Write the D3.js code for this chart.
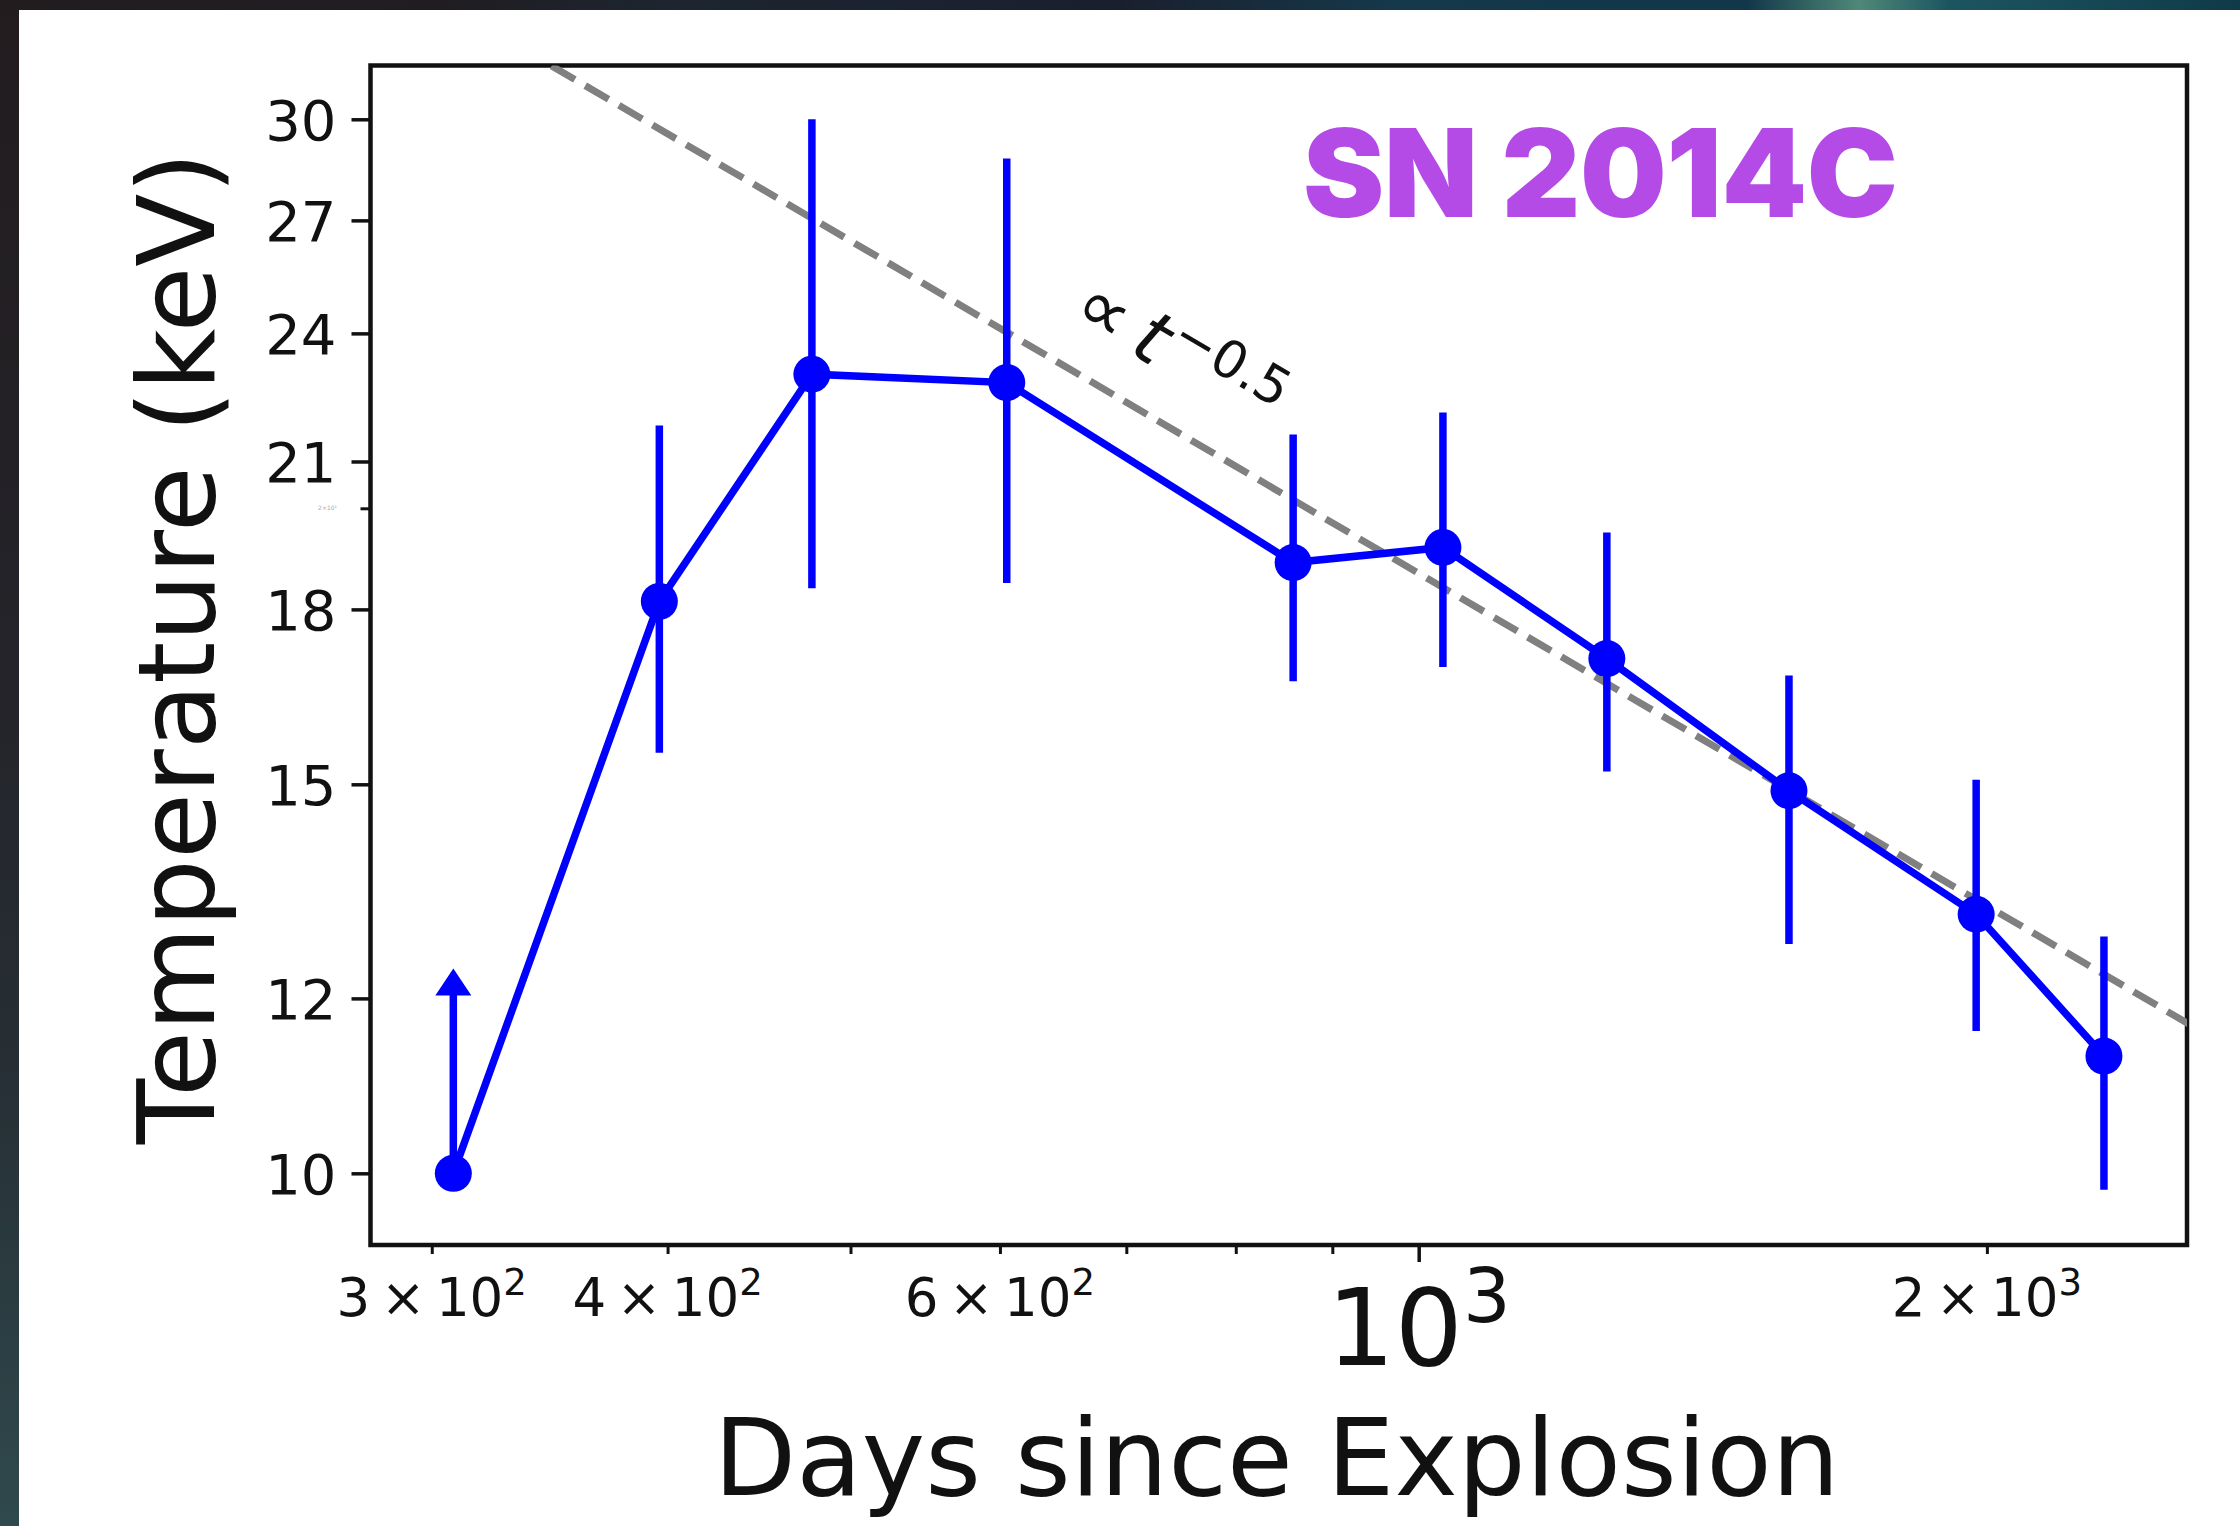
<!DOCTYPE html>
<html>
<head>
<meta charset="utf-8">
<script src="https://cdn.jsdelivr.net/npm/d3@7"></script>
<style>
  html, body { margin: 0; padding: 0; background: #1d1c22; }
  svg { display: block; }
  .tick text { font-family: "DejaVu Sans", sans-serif; }
</style>
</head>
<body>
<div id="chart"></div>
<script>
// SN 2014C: X-ray temperature vs days since explosion
var days     = [308, 396, 477, 605, 858, 1030, 1258, 1571, 1974, 2307];
var tempKeV  = [10.0, 18.15, 23.0, 22.8, 18.9, 19.2, 17.1, 14.9, 13.1, 11.3];
var tempLow  = [null, 15.5, 18.4, 18.5, 16.7, 16.95, 15.2, 12.7, 11.6, 9.83];
var tempHigh = [12.2, 21.8, 30.0, 28.8, 21.6, 22.1, 19.5, 16.8, 15.07, 12.8];
var isLowerLimit = [true, false, false, false, false, false, false, false, false, false];

// power law guide, T = norm * t^slope
var trendNorm = 591;
var trendSlope = -0.5;
var trendDays = [250, 2700];

var yTicks = [10, 12, 15, 18, 21, 24, 27, 30];
var yMinorTicks = [20];
var xMajorTicks = [1000];
var xMinorTicks = [300, 400, 500, 600, 700, 800, 900, 2000];
var xMinorLabels = [
  {value: 300, mant: "3", exp: "2"},
  {value: 400, mant: "4", exp: "2"},
  {value: 600, mant: "6", exp: "2"},
  {value: 2000, mant: "2", exp: "3"}
];

var W = 2240, H = 1526;
var plot = {left: 370.5, right: 2187, top: 65.5, bottom: 1245};

var svg = d3.select("#chart").append("svg")
    .attr("width", W)
    .attr("height", H);

// dark photo-like backdrop peeking around the white card
var defs = svg.append("defs");
var gLeft = defs.append("linearGradient").attr("id", "bgLeft")
    .attr("x1", 0).attr("y1", 0).attr("x2", 0).attr("y2", 1);
[["0", "#221c1f"], ["0.45", "#24242a"], ["0.7", "#262f35"], ["1", "#30494d"]].forEach(function(s) {
  gLeft.append("stop").attr("offset", s[0]).attr("stop-color", s[1]);
});
var gTop = defs.append("linearGradient").attr("id", "bgTop")
    .attr("x1", 0).attr("y1", 0).attr("x2", 1).attr("y2", 0);
[["0", "#221c1f"], ["0.2", "#201d22"], ["0.3", "#1d2530"], ["0.5", "#1a1f2e"],
 ["0.62", "#15384a"], ["0.78", "#12374a"], ["0.83", "#4f8878"], ["0.87", "#1c5560"],
 ["1", "#0f3a48"]].forEach(function(s) {
  gTop.append("stop").attr("offset", s[0]).attr("stop-color", s[1]);
});
svg.append("rect").attr("width", W).attr("height", H).attr("fill", "url(#bgLeft)");
svg.append("rect").attr("width", W).attr("height", 10).attr("fill", "url(#bgTop)");
svg.append("rect").attr("x", 19).attr("y", 10).attr("width", W - 19).attr("height", H - 10)
    .attr("fill", "#ffffff");

defs.append("clipPath").attr("id", "plotClip")
  .append("rect")
    .attr("x", plot.left).attr("y", plot.top)
    .attr("width", plot.right - plot.left).attr("height", plot.bottom - plot.top);

var x = d3.scaleLog()
    .domain([278.4, 2553])
    .range([plot.left, plot.right]);
var y = d3.scaleLog()
    .domain([9.28, 31.73])
    .range([plot.bottom, plot.top]);

// y axis
var yAxis = svg.append("g")
    .attr("transform", "translate(" + plot.left + ",0)")
    .call(d3.axisLeft(y).tickValues(yTicks).tickSize(19).tickPadding(15)
        .tickFormat(d3.format("d")));
yAxis.select(".domain").remove();
yAxis.selectAll(".tick line").attr("stroke", "#111").attr("stroke-width", 3.5);
yAxis.selectAll(".tick text").attr("font-size", 56).attr("fill", "#111").attr("dy", "0.36em");

var yMinor = svg.append("g")
    .attr("transform", "translate(" + plot.left + ",0)")
    .call(d3.axisLeft(y).tickValues(yMinorTicks).tickSize(10).tickFormat(""));
yMinor.select(".domain").remove();
yMinor.selectAll(".tick line").attr("stroke", "#111").attr("stroke-width", 3);
// faint leftover of the original 2x10^1 label
svg.append("text")
    .attr("x", 337).attr("y", y(20) + 2)
    .attr("text-anchor", "end")
    .attr("font-family", "DejaVu Sans")
    .attr("font-size", 6)
    .attr("fill", "#aaa")
    .text("2\u00d710\u00b9");

// x axis
var xMajor = svg.append("g")
    .attr("transform", "translate(0," + plot.bottom + ")")
    .call(d3.axisBottom(x).tickValues(xMajorTicks).tickSize(17).tickFormat(""));
xMajor.select(".domain").remove();
xMajor.selectAll(".tick line").attr("stroke", "#111").attr("stroke-width", 3.5);

var xMinor = svg.append("g")
    .attr("transform", "translate(0," + plot.bottom + ")")
    .call(d3.axisBottom(x).tickValues(xMinorTicks).tickSize(9).tickFormat(""));
xMinor.select(".domain").remove();
xMinor.selectAll(".tick line").attr("stroke", "#111").attr("stroke-width", 3);

// minor tick labels like 3 x 10^2
var minorLab = svg.append("g").attr("font-family", "DejaVu Sans").attr("fill", "#111");
xMinorLabels.forEach(function(d) {
  var t = minorLab.append("text")
      .attr("x", x(d.value))
      .attr("y", 1316)
      .attr("text-anchor", "middle")
      .attr("font-size", 53);
  t.append("tspan").text(d.mant + "\u2009\u00d7\u200910");
  t.append("tspan").attr("font-size", 37).attr("dy", -21).text(d.exp);
});

// major tick label 10^3
xMajorTicks.forEach(function(v) {
  var t = svg.append("text")
      .attr("x", x(v))
      .attr("y", 1365)
      .attr("text-anchor", "middle")
      .attr("font-family", "DejaVu Sans")
      .attr("font-size", 107)
      .attr("fill", "#111");
  t.append("tspan").text("10");
  t.append("tspan").attr("font-size", 75).attr("dy", -43).text(Math.round(Math.log10(v)));
});

// frame
svg.append("rect")
    .attr("x", plot.left).attr("y", plot.top)
    .attr("width", plot.right - plot.left).attr("height", plot.bottom - plot.top)
    .attr("fill", "none")
    .attr("stroke", "#111")
    .attr("stroke-width", 4.5);

// power-law guide
var trend = trendDays.map(function(t) {
  return {t: t, T: trendNorm * Math.pow(t, trendSlope)};
});
svg.append("path")
    .datum(trend)
    .attr("clip-path", "url(#plotClip)")
    .attr("d", d3.line().x(function(d) { return x(d.t); }).y(function(d) { return y(d.T); }))
    .attr("fill", "none")
    .attr("stroke", "#808080")
    .attr("stroke-width", 7)
    .attr("stroke-dasharray", "27,12");

// annotation on the guide
var angle = Math.atan2(y(trend[1].T) - y(trend[0].T), x(trend[1].t) - x(trend[0].t)) * 180 / Math.PI;
var ann = svg.append("text")
    .attr("transform", "translate(1069,318) rotate(" + angle + ")")
    .attr("font-family", "DejaVu Sans")
    .attr("font-size", 74)
    .attr("fill", "#111");
ann.append("tspan").text("\u221d\u2009");
ann.append("tspan").attr("font-style", "italic").text("t");
ann.append("tspan").attr("font-size", 52).attr("dy", -27).attr("dx", 3).text("\u22120.5");

// data
var pts = days.map(function(t, i) {
  return {t: t, T: tempKeV[i], lo: tempLow[i], hi: tempHigh[i], lim: isLowerLimit[i]};
});
var blue = "#0000ff";
var dataG = svg.append("g");

dataG.selectAll("line.err")
  .data(pts)
  .enter().append("line")
    .attr("class", "err")
    .attr("x1", function(d) { return x(d.t); })
    .attr("x2", function(d) { return x(d.t); })
    .attr("y1", function(d) { return y(d.lim ? d.T : d.lo); })
    .attr("y2", function(d) { return y(d.hi); })
    .attr("stroke", blue)
    .attr("stroke-width", 7.5);

// caret for the lower limit
dataG.selectAll("path.limit")
  .data(pts.filter(function(d) { return d.lim; }))
  .enter().append("path")
    .attr("class", "limit")
    .attr("transform", function(d) { return "translate(" + x(d.t) + "," + y(d.hi) + ")"; })
    .attr("d", "M0,-14L18,13L-18,13Z")
    .attr("fill", blue);

dataG.append("path")
    .datum(pts)
    .attr("d", d3.line().x(function(d) { return x(d.t); }).y(function(d) { return y(d.T); }))
    .attr("fill", "none")
    .attr("stroke", blue)
    .attr("stroke-width", 7.5);

dataG.selectAll("circle")
  .data(pts)
  .enter().append("circle")
    .attr("cx", function(d) { return x(d.t); })
    .attr("cy", function(d) { return y(d.T); })
    .attr("r", 18.5)
    .attr("fill", blue);

// axis titles
svg.append("text")
    .attr("x", (plot.left + plot.right) / 2 - 2)
    .attr("y", 1495)
    .attr("text-anchor", "middle")
    .attr("font-family", "DejaVu Sans")
    .attr("font-size", 107)
    .attr("fill", "#111")
    .text("Days since Explosion");

svg.append("text")
    .attr("transform", "translate(214,648) rotate(-90)")
    .attr("text-anchor", "middle")
    .attr("font-family", "DejaVu Sans")
    .attr("font-size", 107)
    .attr("fill", "#111")
    .text("Temperature (keV)");

// object label
svg.append("text")
    .attr("x", 1303)
    .attr("y", 217)
    .attr("font-family", "Inter, sans-serif")
    .attr("font-weight", 900)
    .attr("font-size", 122)
    .attr("letter-spacing", -0.3)
    .attr("fill", "#b44be6")
    .text("SN 2014C");
</script>
</body>
</html>
